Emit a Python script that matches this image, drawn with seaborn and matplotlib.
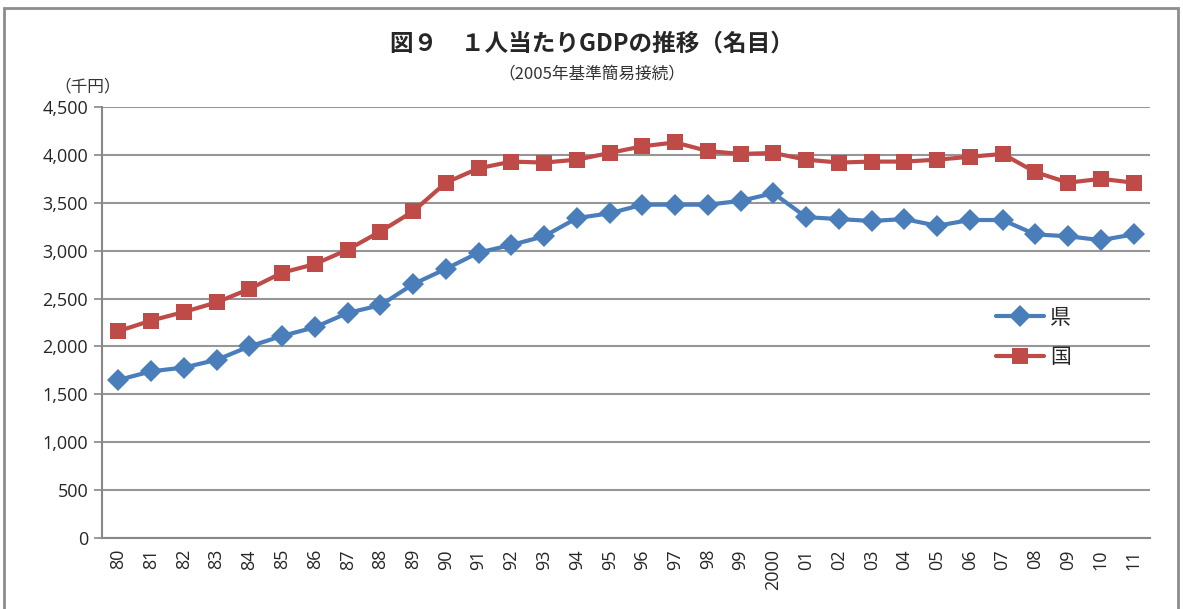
import pandas as pd
import numpy as np
import matplotlib.pyplot as plt
import seaborn as sns
from matplotlib.patches import Rectangle
from matplotlib.lines import Line2D

# Data (thousand yen)
years = ['80', '81', '82', '83', '84', '85', '86', '87', '88', '89',
         '90', '91', '92', '93', '94', '95', '96', '97', '98', '99',
         '2000', '01', '02', '03', '04', '05', '06', '07', '08', '09', '10', '11']
ken = [1650, 1740, 1780, 1860, 2000, 2110, 2200, 2350, 2430, 2650,
       2810, 2980, 3060, 3150, 3340, 3390, 3480, 3480, 3480, 3520,
       3600, 3350, 3330, 3310, 3330, 3260, 3320, 3320, 3170, 3150, 3110, 3170]
kuni = [2160, 2270, 2360, 2460, 2600, 2770, 2860, 3010, 3200, 3410,
        3710, 3860, 3930, 3920, 3950, 4020, 4090, 4130, 4040, 4010,
        4020, 3950, 3920, 3930, 3930, 3950, 3980, 4010, 3820, 3710, 3750, 3710]
series_names = ['県', '国']
colors = ['#4A7EBB', '#BE4B48']

df = pd.DataFrame({
    'pos': list(range(len(years))) * 2,
    'value': ken + kuni,
    'series': [series_names[0]] * len(years) + [series_names[1]] * len(years),
})

sns.set_style("white")
plt.rcParams['font.family'] = ['Noto Sans CJK JP', 'DejaVu Sans']

fig = plt.figure(figsize=(11.83, 6.09), dpi=100)
ax = fig.add_axes([102 / 1183, 1 - 538 / 609, (1150 - 102) / 1183, (538 - 107) / 609])

sns.lineplot(data=df, x='pos', y='value', hue='series', style='series',
             palette=dict(zip(series_names, colors)),
             markers={'県': 'D', '国': 's'}, dashes=False,
             linewidth=3, markersize=11, markeredgewidth=0, ax=ax, legend=False)

# axes styling
ax.set_xlim(-0.5, len(years) - 0.5)
ax.set_ylim(0, 4500)
ax.set_yticks(np.arange(0, 4501, 500))
ax.set_yticklabels([f'{v:,}' for v in range(0, 4501, 500)], fontsize=13,
                   family='Open Sans')
ax.set_xticks(range(len(years)))
ax.set_xticklabels(years, rotation=90, fontsize=13, family='Open Sans')
ax.set_xticks(np.arange(-0.5, len(years), 1), minor=True)
ax.tick_params(axis='x', which='major', length=0, pad=8)
ax.tick_params(axis='x', which='minor', length=7, color='#888888', width=1.2, direction='out')
ax.tick_params(axis='y', length=6, color='#888888', width=1.2, direction='out', pad=4, left=True)
ax.grid(axis='y', color='#969696', linewidth=1.5)
ax.set_axisbelow(True)
for s in ['top', 'right']:
    ax.spines[s].set_visible(False)
for s in ['left', 'bottom']:
    ax.spines[s].set_color('#888888')
    ax.spines[s].set_linewidth(1.5)
ax.set_xlabel('')
ax.set_ylabel('')

# legend
handles = [Line2D([], [], color=colors[0], marker='D', lw=3, ms=11, mew=0),
           Line2D([], [], color=colors[1], marker='s', lw=3, ms=11, mew=0)]
ax.legend(handles, series_names, loc='center left',
          bbox_to_anchor=(0.853, 0.465), frameon=False,
          prop={'family': 'Noto Sans CJK JP', 'size': 15},
          handlelength=2.3, labelspacing=0.85, handletextpad=0.3,
          borderpad=0, borderaxespad=0)

# titles
fig.text(0.5, 1 - 44 / 609, '図９　１人当たりGDPの推移（名目）', ha='center', va='center',
         fontsize=17, fontweight='bold')
fig.text(0.5, 1 - 74 / 609, '（2005年基準簡易接続）', ha='center', va='center',
         fontsize=12, color='#333333')
fig.text(88 / 1183, 1 - 87 / 609, '（千円）', ha='center', va='center',
         fontsize=12, color='#333333')

# outer chart border
fig.add_artist(Rectangle((4 / 1183, -0.05), (1178 - 4) / 1183, 1 - 8 / 609 + 0.05,
                         transform=fig.transFigure, fill=False,
                         edgecolor='#8c8c8c', linewidth=2))

fig.savefig('out.png', dpi=100)
